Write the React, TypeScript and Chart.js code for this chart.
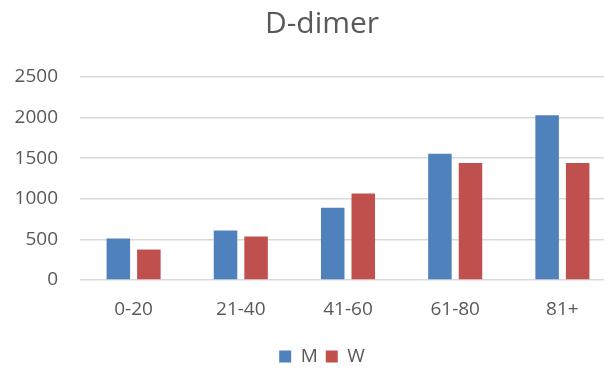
import React, { useEffect, useRef } from "react";
import { Chart, registerables } from "chart.js";

Chart.register(...registerables);

const ageGroups = ["0-20", "21-40", "41-60", "61-80", "81+"];
const menValues = [510, 610, 890, 1555, 2030];
const womenValues = [375, 535, 1065, 1440, 1440];
const yTicks = [0, 500, 1000, 1500, 2000, 2500];

const FONT = "'Open Sans', sans-serif";
const TEXT = "#595959";

// Nudges the title and legend so they are centred over the whole figure
// rather than over the space left of the right padding.
const centreShift = {
  id: "centreShift",
  afterLayout(chart: any) {
    const dx = 14;
    for (const box of [chart.titleBlock, chart.legend]) {
      if (box) {
        box.left += dx;
        box.right += dx;
      }
    }
  },
};

export default function App() {
  const canvasRef = useRef<HTMLCanvasElement | null>(null);

  useEffect(() => {
    document.body.style.margin = "0";
    const canvas = canvasRef.current;
    if (!canvas) return;
    const chart = new Chart(canvas, {
      type: "bar",
      data: {
        labels: ageGroups,
        datasets: [
          {
            label: "M",
            data: menValues,
            backgroundColor: "#4f81bd",
            categoryPercentage: 0.57,
            barPercentage: 0.77,
          },
          {
            label: "W",
            data: womenValues,
            backgroundColor: "#c0504d",
            categoryPercentage: 0.57,
            barPercentage: 0.77,
          },
        ],
      },
      options: {
        animation: false,
        responsive: false,
        maintainAspectRatio: false,
        layout: { padding: { left: 0, right: 24, top: 6, bottom: -6 } },
        plugins: {
          title: {
            display: true,
            text: "D-dimer",
            color: TEXT,
            font: { family: FONT, size: 30, weight: "normal" },
            padding: { top: 0, bottom: 35 },
          },
          legend: {
            position: "bottom",
            labels: {
              color: TEXT,
              font: { family: FONT, size: 19 },
              boxWidth: 12,
              boxHeight: 12,
              padding: 8,
            },
          },
          tooltip: { enabled: false },
        },
        scales: {
          x: {
            grid: { display: false },
            border: { display: false },
            ticks: { color: TEXT, font: { family: FONT, size: 19 }, padding: 10 },
            afterFit: (scale: any) => {
              scale.height = 59;
            },
          },
          y: {
            min: 0,
            max: 2500,
            afterBuildTicks: (scale: any) => {
              scale.ticks = yTicks.map((v) => ({ value: v }));
            },
            afterFit: (scale: any) => {
              scale.width = 80;
            },
            grid: { color: "#d9d9d9", lineWidth: 1.5, drawTicks: false },
            border: { display: false },
            ticks: {
              color: TEXT,
              font: { family: FONT, size: 19 },
              padding: 22,
              callback: (v: any) => String(v),
            },
          },
        },
      },
      plugins: [centreShift],
    });
    return () => chart.destroy();
  }, []);

  return (
    <div style={{ width: 604, height: 370, overflow: "hidden", background: "#fff" }}>
      <canvas ref={canvasRef} width={640} height={370} style={{ display: "block" }} />
    </div>
  );
}
